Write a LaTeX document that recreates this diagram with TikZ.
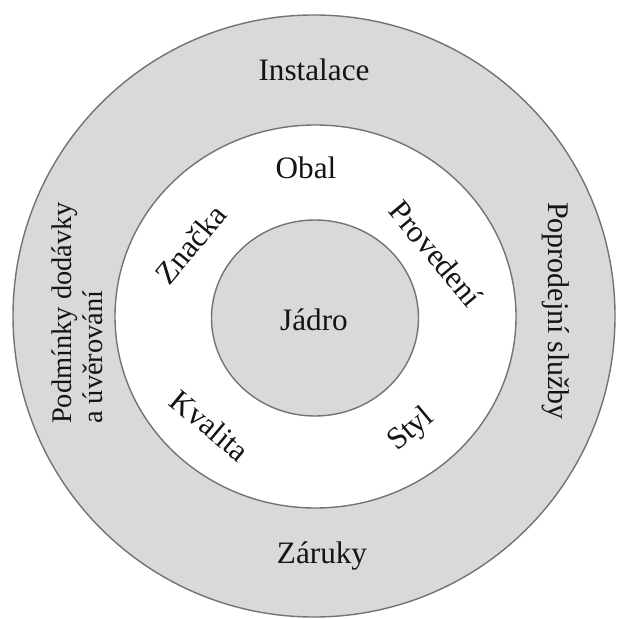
\documentclass[tikz,border=0pt]{standalone}
\usepackage{fontspec}
\setmainfont{Liberation Serif}
\usepackage{tikz}
\definecolor{ringgray}{RGB}{217, 217, 217}
\definecolor{edgegray}{RGB}{115, 115, 115}
\definecolor{labelink}{RGB}{20, 20, 20}

\begin{document}
\begin{tikzpicture}[x=0.5pt,y=-0.5pt,
    ring/.style={draw=edgegray,line width=0.7pt},
    lbl/.style={labelink,font=\fontsize{15.6}{16}\selectfont,inner sep=0pt},
    sidelbl/.style={lbl,font=\fontsize{14.2}{15.5}\selectfont,align=left}]
    \useasboundingbox (0,0) rectangle (619,619);

    % Outer ring: augmented product
    \draw[ring,fill=ringgray] (314,316) circle (301);
    % Middle ring: actual product
    \draw[ring,fill=white] (315.5,316.5) ellipse [x radius=200.5,y radius=191.5];
    % Core
    \draw[ring,fill=ringgray] (315,318) ellipse [x radius=103.5,y radius=98];

    \node[lbl] (core) at (314,320) {Jádro};

    % Labels of the middle ring
    \node[lbl] (obal) at (306,168) {Obal};
    \node[lbl,rotate=50] (znacka) at (190.5,244.5) {Značka};
    \node[lbl,rotate=-50] (provedeni) at (436,253.5) {Provedení};
    \node[lbl,rotate=-40] (kvalita) at (210,425.5) {Kvalita};
    \node[lbl,rotate=40] (styl) at (411.5,430) {Styl};

    % Labels of the outer ring
    \node[lbl] (instalace) at (314,70) {Instalace};
    \node[lbl] (zaruky) at (322,556) {Záruky};
    \node[sidelbl,rotate=90] (podminky) at (77.5,313) {Podmínky dodávky\\a úvěrování};
    \node[lbl,font=\fontsize{15}{16}\selectfont,rotate=-90] (servis) at (556,311) {Poprodejní služby};
\end{tikzpicture}
\end{document}
